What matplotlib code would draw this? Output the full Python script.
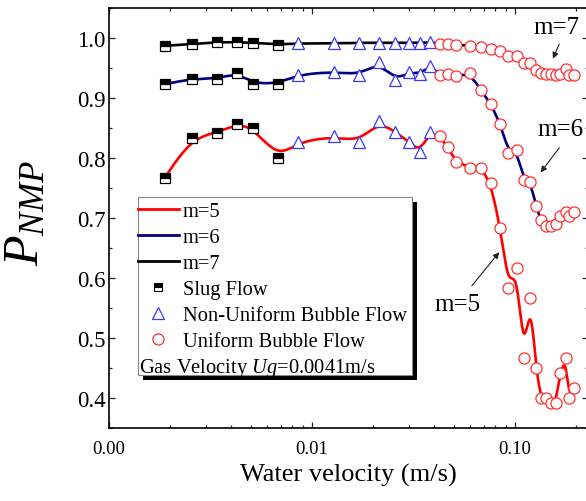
import numpy as np
import matplotlib
matplotlib.use("Agg")
import matplotlib.pyplot as plt
from matplotlib.lines import Line2D
from matplotlib.patches import Rectangle
from matplotlib.ticker import FixedLocator, FormatStrFormatter, MultipleLocator, NullFormatter

plt.rcParams['font.family'] = ['Liberation Serif', 'DejaVu Serif']
plt.rcParams['mathtext.fontset'] = 'custom'
plt.rcParams['mathtext.rm'] = 'Liberation Serif'
plt.rcParams['mathtext.it'] = 'Liberation Serif:italic'

# water velocity (m/s) for each flow regime
slug_x = [0.00188, 0.00255, 0.00339, 0.00429, 0.00512, 0.00682]
nonuni_x = [0.00851, 0.0128, 0.0171, 0.0213, 0.0257, 0.0301, 0.0339, 0.0379]
uni_x = [0.0425, 0.0466, 0.0509, 0.0598, 0.0680, 0.0758, 0.0846, 0.0927, 0.1017, 0.1101,
         0.1189, 0.1268, 0.1337, 0.1417, 0.1500, 0.1587, 0.1664, 0.1771, 0.1842, 0.1950]

# P_NMP for m = 5, 6, 7
slug_m5 = [0.767, 0.833, 0.842, 0.857, 0.850, 0.800]
slug_m6 = [0.923, 0.932, 0.932, 0.942, 0.924, 0.924]
slug_m7 = [0.987, 0.990, 0.993, 0.993, 0.992, 0.989]

nonuni_m5 = [0.827, 0.836, 0.827, 0.861, 0.843, 0.827, 0.810, 0.843]
nonuni_m6 = [0.939, 0.944, 0.938, 0.960, 0.930, 0.943, 0.940, 0.954]
nonuni_m7 = [0.991, 0.991, 0.992, 0.992, 0.992, 0.992, 0.992, 0.993]

uni_m5 = [0.836, 0.818, 0.794, 0.784, 0.783, 0.759, 0.683, 0.583, 0.617, 0.467,
          0.567, 0.450, 0.400, 0.400, 0.392, 0.392, 0.442, 0.467, 0.400, 0.417]
uni_m6 = [0.939, 0.940, 0.937, 0.941, 0.913, 0.890, 0.857, 0.809, 0.813, 0.764,
          0.760, 0.720, 0.696, 0.686, 0.686, 0.690, 0.704, 0.710, 0.704, 0.710]
uni_m7 = [0.9905, 0.9905, 0.989, 0.987, 0.985, 0.982, 0.979, 0.9705, 0.9705, 0.958,
          0.958, 0.947, 0.942, 0.9405, 0.9405, 0.938, 0.9405, 0.949, 0.939, 0.939]

series = [("m=5", "#ff0000", slug_m5, nonuni_m5, uni_m5),
          ("m=6", "#000080", slug_m6, nonuni_m6, uni_m6),
          ("m=7", "#000000", slug_m7, nonuni_m7, uni_m7)]

# arrow labels: text, text position, arrow tail, arrow head (x in m/s, y in P_NMP)
notes = [("m=7", (0.159, 1.009), (0.165, 0.990), (0.1535, 0.9655)),
         ("m=6", (0.168, 0.838), (0.165, 0.817), (0.1335, 0.776)),
         ("m=5", (0.0518, 0.547), (0.0612, 0.587), (0.0835, 0.643))]

W, H = 586, 502


def bspline(xs, ys, n=24):
    # uniform cubic B-spline in (log x, y), ends clamped
    pts = np.column_stack([np.log10(xs), ys])
    P = np.vstack([pts[0], pts[0], pts, pts[-1], pts[-1]])
    t = np.linspace(0, 1, n, endpoint=False)[:, None]
    b0 = (1 - t) ** 3 / 6
    b1 = (3 * t ** 3 - 6 * t ** 2 + 4) / 6
    b2 = (-3 * t ** 3 + 3 * t ** 2 + 3 * t + 1) / 6
    b3 = t ** 3 / 6
    segs = [b0 * P[i] + b1 * P[i + 1] + b2 * P[i + 2] + b3 * P[i + 3] for i in range(len(P) - 3)]
    curve = np.vstack(segs + [P[-1:]])
    return 10 ** curve[:, 0], curve[:, 1]


fig = plt.figure(figsize=(W / 100, H / 100), dpi=100)
ax = fig.add_axes([109 / W, 1 - 429 / H, (588 - 109) / W, (429 - 9) / H])

all_x = slug_x + nonuni_x + uni_x
for label, color, s, nu, u in series:
    cx, cy = bspline(all_x, s + nu + u)
    ax.plot(cx, cy, color=color, lw=1.9, zorder=2)

for label, color, s, nu, u in series:
    ax.plot(slug_x, s, ls='none', marker='s', ms=6.5, mfc='black', mfcalt='white',
            fillstyle='top', mec='black', mew=0.9, zorder=3)
    ax.plot(nonuni_x, nu, ls='none', marker='^', ms=8.5, mfc='white', mec='#3838ff',
            mew=0.9, zorder=3)
    ax.plot(uni_x, u, ls='none', marker='o', ms=8, mfc='white', mec='#ff3030',
            mew=0.9, zorder=3)

ax.set_xscale('log')
ax.set_xlim(0.001, 0.2285)
ax.set_ylim(0.35, 1.05)
ax.xaxis.set_major_locator(FixedLocator([0.001, 0.01, 0.1]))
ax.xaxis.set_major_formatter(FormatStrFormatter('%.2f'))
ax.xaxis.set_minor_formatter(NullFormatter())
ax.yaxis.set_major_locator(MultipleLocator(0.1))
ax.yaxis.set_minor_locator(MultipleLocator(0.05))
ax.yaxis.set_major_formatter(FormatStrFormatter('%.1f'))
ax.tick_params(which='both', direction='in', top=True, right=True, width=0.9, color='#222222')
ax.tick_params(which='major', length=4.5)
ax.tick_params(which='minor', length=2.5)
ax.tick_params(axis='x', which='major', labelsize=13.5, pad=9)
ax.tick_params(axis='y', which='major', labelsize=16.5, pad=2.5)
for sp in ax.spines.values():
    sp.set_linewidth(1.2)

ax.set_xlabel('Water velocity (m/s)', fontsize=19, labelpad=4)
ax.set_ylabel('$P_{NMP}$', fontsize=36)
ax.yaxis.set_label_coords(-0.125, 0.515)

for txt, tpos, tail, head in notes:
    ax.annotate('', xy=head, xytext=tail,
                arrowprops=dict(arrowstyle='-|>', color='#222222', lw=0.8,
                                mutation_scale=9, shrinkA=0, shrinkB=0))
    ax.text(tpos[0], tpos[1], txt, fontsize=18, ha='center', va='baseline')

# legend box with drop shadow
box_l, box_t, box_r, box_b = 137.7, 198, 411.7, 376
fig.patches.append(Rectangle(((box_l + 5) / W, 1 - (box_b + 5) / H), (box_r - box_l) / W,
                             (box_b - box_t) / H, transform=fig.transFigure,
                             facecolor='black', edgecolor='none', zorder=5))
fig.patches.append(Rectangle((box_l / W, 1 - box_b / H), (box_r - box_l) / W,
                             (box_b - box_t) / H, transform=fig.transFigure,
                             facecolor='white', edgecolor='#888888', lw=0.8, zorder=6))

handles = [Line2D([], [], color=c, lw=2) for _, c, *_ in series]
handles += [Line2D([], [], ls='none', marker='s', ms=5.5, mfc='black', mfcalt='white',
                   fillstyle='top', mec='black', mew=0.8),
            Line2D([], [], ls='none', marker='^', ms=8, mfc='white', mec='#3838ff', mew=0.9),
            Line2D([], [], ls='none', marker='o', ms=8, mfc='white', mec='#ff3030', mew=0.9)]
labels = [s[0] for s in series] + ['Slug Flow', 'Non-Uniform Bubble Flow', 'Uniform Bubble Flow']
leg = fig.legend(handles, labels, loc='upper left', bbox_to_anchor=(box_l / W, 1 - 203 / H),
                 frameon=False, fontsize=14.8, handlelength=2.0, handletextpad=0.2,
                 labelspacing=0.32, borderpad=0, borderaxespad=0)
leg.set_zorder(7)
fig.text((box_l + 1.5) / W, 1 - 368 / H, 'Gas Velocity $Ug$=0.0041m/s', fontsize=14.8,
         ha='left', va='center', zorder=8)

fig.savefig('out.png', dpi=100)
